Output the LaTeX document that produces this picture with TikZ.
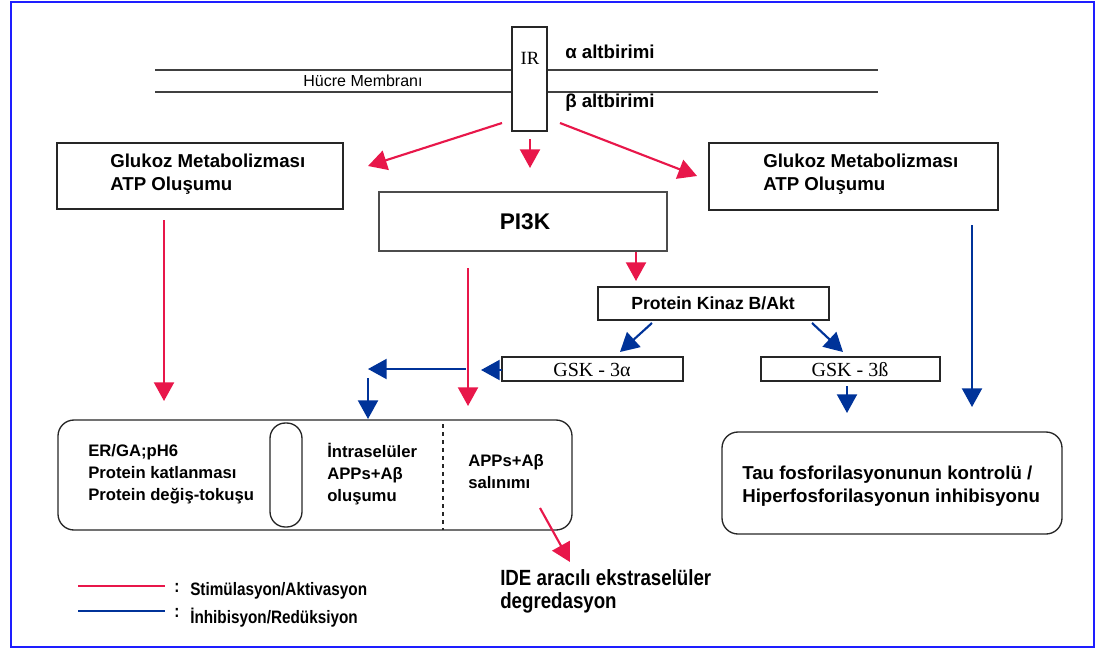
\documentclass[tikz,border=0pt]{standalone}
\usepackage{fontspec}
\setmainfont{Liberation Sans}
\newfontfamily\serifx{Liberation Serif}
\newfontfamily\narrowf[FakeStretch=0.85]{Liberation Sans}
\usetikzlibrary{arrows.meta,fit}
\definecolor{actred}{RGB}{232,23,74}
\definecolor{inhblue}{RGB}{0,51,153}
\definecolor{frameblue}{RGB}{30,30,255}
\begin{document}
\begin{tikzpicture}[x=0.75pt,y=-0.75pt,
  box/.style={draw=black!85, line width=1pt, inner sep=0pt, fill=white},
  rbox/.style={draw=black!85, line width=1pt, inner sep=0pt, rounded corners=12pt},
  lbl/.style={font=\fontsize{14}{17.25}\selectfont\bfseries, inner sep=0pt, align=left},
  sm/.style={font=\fontsize{12.5}{16.5}\selectfont\bfseries, inner sep=0pt, align=left},
  nar/.style={font=\narrowf\fontsize{16.5}{17.25}\selectfont\bfseries, inner sep=0pt, align=left},
  leg/.style={font=\narrowf\fontsize{13.5}{16}\selectfont\bfseries, inner sep=0pt, anchor=west},
  gsk/.style={font=\serifx\fontsize{15}{17}\selectfont, inner sep=0pt},
  ra/.style={draw=actred, line width=1.6pt, -{Triangle[length=14pt,width=15pt]}},
  ba/.style={draw=inhblue, line width=1.6pt, -{Triangle[length=14pt,width=15pt]}},
  mem/.style={draw=black!75, line width=0.9pt}]
\useasboundingbox (0,0) rectangle (1096,650);
% frame
\node[draw=frameblue, line width=1.6pt, inner sep=0pt, fit={(11,2)(1094,647)}] (frame) {};
% membrane
\coordinate (m1a) at (155,70); \coordinate (m1b) at (878,70);
\coordinate (m2a) at (155,92); \coordinate (m2b) at (878,92);
\draw[mem] (m1a) -- (m1b);
\draw[mem] (m2a) -- (m2b);
\node[font=\fontsize{12}{14}\selectfont, inner sep=0pt] (memtxt) at (363,81) {Hücre Membranı};
% IR
\node[box, fit={(512,27)(547,131)}] (ir) {};
\node[font=\serifx\fontsize{14}{16}\selectfont, inner sep=0pt] (irt) at (530,58) {IR};
\node[lbl, anchor=west] (alpha) at (565,52) {α altbirimi};
\node[lbl, anchor=west] (beta) at (565,103) {β altbirimi};
% boxes
\node[box, fit={(57,143)(343,209)}] (glL) {};
\node[lbl, anchor=west] (glLt) at (110,174) {Glukoz Metabolizması\\ATP Oluşumu};
\node[box, fit={(709,143)(998,210)}] (glR) {};
\node[lbl, anchor=west] (glRt) at (763,174) {Glukoz Metabolizması\\ATP Oluşumu};
\node[box, draw=black!70, fit={(379,192)(667,251)}] (pi) {};
\node[font=\fontsize{17}{20}\selectfont\bfseries, inner sep=0pt] (pit) at (525,222) {PI3K};
\node[box, fit={(598,287)(829,320)}] (pk) {};
\node[font=\fontsize{13.2}{16}\selectfont\bfseries, inner sep=0pt] (pkt) at (713,303) {Protein Kinaz B/Akt};
\node[box, fit={(502,357)(683,381)}] (ga) {};
\node[gsk] (gat) at (592,370) {GSK - 3α};
\node[box, fit={(761,357)(940,381)}] (gb) {};
\node[gsk] (gbt) at (850,370) {GSK - 3ß};
% bottom left compartment
\node[rbox, fit={(58,420)(572,530)}] (cell) {};
\node[draw=black!85, line width=1pt, inner sep=0pt, rounded corners=11.5pt, fit={(270,423)(302,527)}] (pill) {};
\coordinate (dsa) at (443,424); \coordinate (dsb) at (443,530);
\draw[black!85, line width=1pt, dashed] (dsa) -- (dsb);
\node[sm, anchor=west] (er) at (88,474) {ER/GA;pH6\\Protein katlanması\\Protein değiş-tokuşu};
\node[sm, anchor=west] (intra) at (327,474) {İntraselüler\\APPs+Aβ\\oluşumu};
\node[sm, anchor=west] (sal) at (468,472) {APPs+Aβ\\salınımı};
% right compartment
\node[rbox, fit={(722,432)(1062,534)}] (tau) {};
\node[lbl, anchor=west] (taut) at (742,486) {Tau fosforilasyonunun kontrolü /\\Hiperfosforilasyonun inhibisyonu};
% IDE
\node[nar, anchor=west] (ide) at (500,591) {IDE aracılı ekstraselüler\\degredasyon};
% red arrows
\coordinate (r1s) at (502,123); \coordinate (r1e) at (368,166);
\coordinate (r2s) at (530,139); \coordinate (r2e) at (530,168);
\coordinate (r3s) at (560,123); \coordinate (r3e) at (697,176);
\coordinate (r4s) at (636,252); \coordinate (r4e) at (636,281);
\coordinate (r5s) at (468,268); \coordinate (r5e) at (468,406);
\coordinate (r6s) at (164,220); \coordinate (r6e) at (164,401);
\coordinate (r7s) at (540,508); \coordinate (r7e) at (570,562);
\draw[ra] (r1s) -- (r1e);
\draw[ra] (r2s) -- (r2e);
\draw[ra] (r3s) -- (r3e);
\draw[ra] (r4s) -- (r4e);
\draw[ra] (r5s) -- (r5e);
\draw[ra] (r6s) -- (r6e);
\draw[ra] (r7s) -- (r7e);
% blue arrows
\coordinate (b1s) at (652,323); \coordinate (b1e) at (620,352);
\coordinate (b2s) at (812,323); \coordinate (b2e) at (843,352);
\coordinate (b3s) at (502,370); \coordinate (b3e) at (481,370);
\coordinate (b4s) at (466,369); \coordinate (b4e) at (368,369);
\coordinate (b5s) at (368,378); \coordinate (b5e) at (368,419);
\coordinate (b6s) at (847,386); \coordinate (b6e) at (847,413);
\coordinate (b7s) at (972,225); \coordinate (b7e) at (972,407);
\draw[ba] (b1s) -- (b1e);
\draw[ba] (b2s) -- (b2e);
\draw[ba] (b3s) -- (b3e);
\draw[ba] (b4s) -- (b4e);
\draw[ba] (b5s) -- (b5e);
\draw[ba] (b6s) -- (b6e);
\draw[ba] (b7s) -- (b7e);
% legend
\coordinate (l1a) at (78,586); \coordinate (l1b) at (165,586);
\coordinate (l2a) at (78,611); \coordinate (l2b) at (165,611);
\draw[actred, line width=2.2pt] (l1a) -- (l1b);
\draw[inhblue, line width=2.2pt] (l2a) -- (l2b);
\node[leg] (c1) at (174,588) {:};
\node[leg] (c2) at (174,613) {:};
\node[leg] (s1) at (190,591) {Stimülasyon/Aktivasyon};
\node[leg] (s2) at (190,618) {İnhibisyon/Redüksiyon};
\end{tikzpicture}
\end{document}
